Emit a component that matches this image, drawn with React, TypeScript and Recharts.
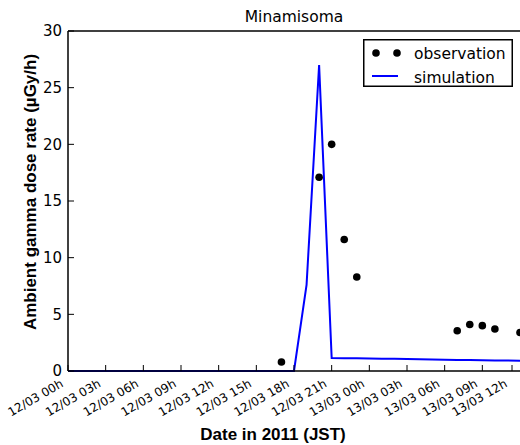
import React from "react"
import {
  ComposedChart,
  Line,
  Scatter,
  XAxis,
  YAxis,
  Legend,
} from "recharts"

// hours since 12/03 00h (JST)
const tickHours = [0, 3, 6, 9, 12, 15, 18, 21, 24, 27, 30, 33, 36]
const tickLabels = [
  "12/03 00h", "12/03 03h", "12/03 06h", "12/03 09h", "12/03 12h", "12/03 15h", "12/03 18h",
  "12/03 21h", "13/03 00h", "13/03 03h", "13/03 06h", "13/03 09h", "13/03 12h",
]
const yTicks = [0, 5, 10, 15, 20, 25, 30]

const simHours = [
  0, 1, 2, 3, 4, 5, 6, 7, 8, 9, 10, 11, 12, 13, 14, 15, 16, 17, 18,
  19, 20, 21, 22, 23, 24, 25, 26, 27, 28, 29, 30, 31, 32, 33, 34, 35, 36,
]
const simValues = [
  0, 0, 0, 0, 0, 0, 0, 0, 0, 0, 0, 0, 0, 0, 0, 0, 0, 0, 0,
  7.6, 27.0, 1.15, 1.13, 1.12, 1.1, 1.08, 1.07, 1.05, 1.03, 1.02, 1.0, 0.98, 0.97, 0.95, 0.93, 0.92, 0.9,
]

const obsHours = [17, 20, 21, 22, 23, 31, 32, 33, 34, 36]
const obsValues = [0.8, 17.1, 20.0, 11.6, 8.3, 3.55, 4.1, 4.0, 3.7, 3.4]

const simData = simHours.map((t, i) => ({ t, v: simValues[i] }))
const obsData = obsHours.map((t, i) => ({ t, v: obsValues[i] }))

const tickFont = "'DejaVu Sans', sans-serif"
const labelFont = "'Liberation Sans', Arial, sans-serif"

const BottomTick = (props: any) => {
  const { x, y, payload } = props
  const idx = tickHours.indexOf(payload.value)
  return (
    <g>
      <line x1={x} x2={x} y1={y} y2={y - 6} stroke="#000" strokeWidth={1} />
      <text
        transform={`translate(${x - 4},${y + 15}) rotate(-30)`}
        textAnchor="end"
        fontSize={12}
        fontFamily={tickFont}
        fill="#000"
      >
        {tickLabels[idx]}
      </text>
    </g>
  )
}

const TopTick = (props: any) => {
  const { x, y } = props
  return <line x1={x} x2={x} y1={y} y2={y + 6} stroke="#000" strokeWidth={1} />
}

const LeftTick = (props: any) => {
  const { x, y, payload } = props
  return (
    <g>
      <line x1={x} x2={x + 6} y1={y} y2={y} stroke="#000" strokeWidth={1} />
      <text x={x - 6} y={y} dy="0.36em" textAnchor="end" fontSize={15} fontFamily={tickFont} fill="#000">
        {payload.value}
      </text>
    </g>
  )
}

const RightTick = (props: any) => {
  const { x, y } = props
  return <line x1={x} x2={x - 6} y1={y} y2={y} stroke="#000" strokeWidth={1} />
}

// labels ignore the props recharts passes in and sit where the reference has them
const XTitle = () => (
  <text x={273} y={440} textAnchor="middle" fontSize={17} fontWeight="bold" fontFamily={labelFont} fill="#000">
    Date in 2011 (JST)
  </text>
)

const YTitle = () => (
  <text
    x={30}
    y={192}
    transform="rotate(-90,30,192)"
    textAnchor="middle"
    dominantBaseline="central"
    fontSize={17}
    fontWeight="bold"
    fontFamily={labelFont}
    fill="#000"
  >
    Ambient gamma dose rate (µGy/h)
  </text>
)

const ChartTitle = () => (
  <text x={294} y={22} textAnchor="middle" fontSize={15.5} fontFamily={tickFont} fill="#000">
    Minamisoma
  </text>
)

const LegendBox = () => (
  <svg width={150} height={48} style={{ display: "block" }}>
    <rect x={0.75} y={0.75} width={148.5} height={46.5} fill="#fff" stroke="#000" strokeWidth={1.5} />
    <circle cx={13} cy={14} r={3.8} fill="#000" />
    <circle cx={34} cy={14} r={3.8} fill="#000" />
    <text x={51} y={20} fontSize={15.5} fontFamily={tickFont} fill="#000">observation</text>
    <line x1={9} x2={35} y1={37} y2={37} stroke="#0000ff" strokeWidth={2} />
    <text x={51} y={44} fontSize={15.5} fontFamily={tickFont} fill="#000">simulation</text>
  </svg>
)

export default function App() {
  return (
    <div style={{ position: "absolute", left: 0, top: 0, width: 520, height: 445, background: "#fff" }}>
      <ComposedChart width={520} height={445} margin={{ top: 0, right: 0, bottom: 0, left: 0 }}>
        <XAxis
          dataKey="t"
          type="number"
          domain={[0, 36]}
          ticks={tickHours}
          height={74}
          tickSize={0}
          tickMargin={0}
          tickLine={false}
          tick={<BottomTick />}
          axisLine={{ stroke: "#000", strokeWidth: 1.5 }}
          label={{ content: () => <XTitle /> }}
        />
        <XAxis
          xAxisId="top"
          orientation="top"
          dataKey="t"
          type="number"
          domain={[0, 36]}
          ticks={tickHours}
          height={31}
          tickSize={0}
          tickMargin={0}
          tickLine={false}
          tick={<TopTick />}
          axisLine={{ stroke: "#000", strokeWidth: 1.5 }}
          label={{ content: () => <ChartTitle /> }}
        />
        <YAxis
          type="number"
          domain={[0, 30]}
          ticks={yTicks}
          width={68}
          tickSize={0}
          tickMargin={0}
          tickLine={false}
          tick={<LeftTick />}
          axisLine={{ stroke: "#000", strokeWidth: 1.5 }}
          label={{ content: () => <YTitle /> }}
        />
        <YAxis
          yAxisId="right"
          orientation="right"
          type="number"
          domain={[0, 30]}
          ticks={yTicks}
          width={0}
          tickSize={0}
          tickMargin={0}
          tickLine={false}
          tick={<RightTick />}
          axisLine={{ stroke: "#000", strokeWidth: 1.5 }}
        />
        <Legend
          layout="horizontal"
          verticalAlign="middle"
          align="center"
          content={() => <LegendBox />}
          wrapperStyle={{ left: 363, top: 39, width: 150, height: 48 }}
        />
        <Line
          data={simData}
          dataKey="v"
          type="linear"
          stroke="#0000ff"
          strokeWidth={2}
          dot={false}
          activeDot={false}
          isAnimationActive={false}
        />
        <Scatter
          data={obsData}
          dataKey="v"
          fill="#000"
          shape={(p: any) => <circle cx={p.cx} cy={p.cy} r={3.8} fill="#000" />}
          isAnimationActive={false}
        />
      </ComposedChart>
    </div>
  )
}
